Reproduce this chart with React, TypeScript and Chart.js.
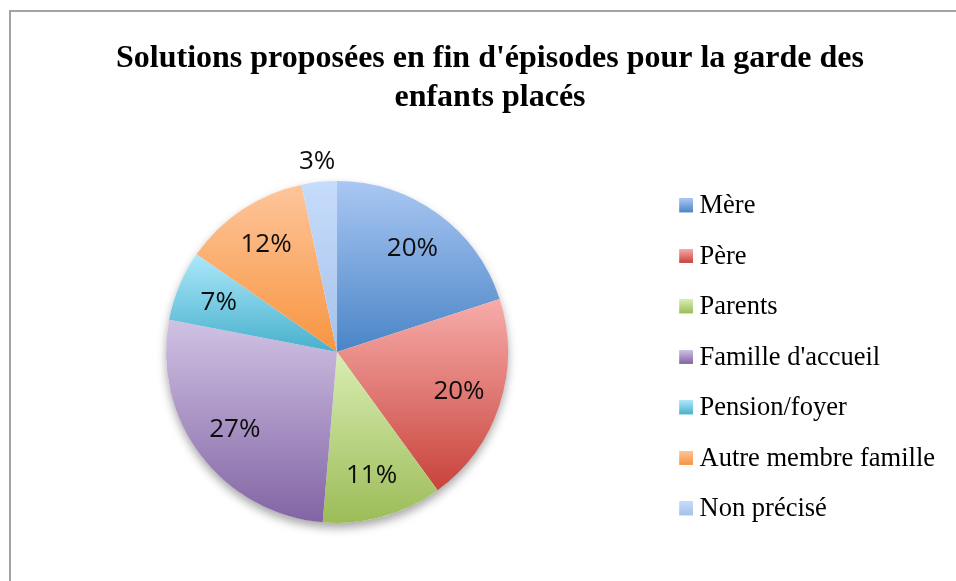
import React, { useEffect, useRef } from "react";
import { Chart, registerables } from "chart.js";

Chart.register(...registerables);

const categories = [
  "Mère",
  "Père",
  "Parents",
  "Famille d'accueil",
  "Pension/foyer",
  "Autre membre famille",
  "Non précisé",
];
const counts = [30, 30, 17, 40, 10, 18, 5];
const gradientTop = ["#aac7f3", "#f7acaa", "#d9edb2", "#d0c2e4", "#ace8fa", "#fec59b", "#c6dcfb"];
const gradientBottom = ["#4a85c6", "#c8433b", "#9cbc58", "#8264a4", "#47b0cc", "#f79540", "#a6c2ea"];
const titleLines = ["Solutions proposées en fin d'épisodes pour la garde des", "enfants placés"];

const SERIF = "'Liberation Serif', 'Times New Roman', serif";

function sliceBounds(arc: any): [number, number] {
  const { x, y, startAngle, endAngle, outerRadius } = arc;
  let ymin = y;
  let ymax = y;
  const consider = (a: number) => {
    const yy = y + Math.sin(a) * outerRadius;
    ymin = Math.min(ymin, yy);
    ymax = Math.max(ymax, yy);
  };
  consider(startAngle);
  consider(endAngle);
  for (let k = -4; k <= 8; k++) {
    const a = (k * Math.PI) / 2;
    if (a > startAngle && a < endAngle) consider(a);
  }
  return [ymin, ymax];
}

const sliceStylePlugin = {
  id: "sliceStyle",
  beforeDatasetsDraw(chart: any) {
    const meta = chart.getDatasetMeta(0);
    const ctx = chart.ctx as CanvasRenderingContext2D;
    const first = meta.data[0];
    if (!first) return;
    // soft shadow under the pie
    ctx.save();
    ctx.beginPath();
    ctx.arc(first.x, first.y, first.outerRadius, 0, Math.PI * 2);
    ctx.fillStyle = "#ffffff";
    ctx.shadowColor = "rgba(0,0,0,0.35)";
    ctx.shadowBlur = 10;
    ctx.shadowOffsetY = 5;
    ctx.fill();
    ctx.restore();
    meta.data.forEach((arc: any, i: number) => {
      const [y0, y1] = sliceBounds(arc);
      const g = ctx.createLinearGradient(0, y0, 0, y1);
      g.addColorStop(0, gradientTop[i]);
      g.addColorStop(1, gradientBottom[i]);
      const opts = arc.options;
      if (Object.isFrozen(opts)) {
        arc.options = Object.assign({}, opts, { backgroundColor: g });
      } else {
        opts.backgroundColor = g;
      }
    });
  },
};

const pctLabelPlugin = {
  id: "pctLabels",
  afterDatasetsDraw(chart: any) {
    const meta = chart.getDatasetMeta(0);
    const ctx = chart.ctx as CanvasRenderingContext2D;
    const data = chart.data.datasets[0].data as number[];
    const total = data.reduce((a, b) => a + b, 0);
    ctx.save();
    ctx.font = "26px 'Open Sans', sans-serif";
    ctx.fillStyle = "#0d0d0d";
    ctx.textAlign = "center";
    ctx.textBaseline = "middle";
    meta.data.forEach((arc: any, i: number) => {
      const pct = (data[i] / total) * 100;
      const mid = (arc.startAngle + arc.endAngle) / 2;
      const r = pct < 5 ? arc.outerRadius + 20 : arc.outerRadius * 0.75;
      const x = arc.x + Math.cos(mid) * r;
      const y = arc.y + Math.sin(mid) * r;
      ctx.fillText(Math.round(pct) + "%", x, y);
    });
    ctx.restore();
  },
};

export default function App() {
  const ref = useRef<HTMLCanvasElement>(null);

  useEffect(() => {
    const images = categories.map((_, i) => {
      const c = document.createElement("canvas");
      c.width = 37;
      c.height = 16;
      const cx = c.getContext("2d")!;
      const g = cx.createLinearGradient(0, 0, 0, 14);
      g.addColorStop(0, gradientTop[i]);
      g.addColorStop(1, gradientBottom[i]);
      cx.fillStyle = g;
      cx.fillRect(23, 0, 14, 14);
      return c;
    });

    const chart = new Chart(ref.current!, {
      type: "pie",
      data: {
        labels: categories,
        datasets: [
          {
            data: counts,
            backgroundColor: gradientBottom,
            borderWidth: 0,
            hoverOffset: 0,
          },
        ],
      },
      options: {
        responsive: false,
        animation: false,
        devicePixelRatio: 1,
        events: [],
        radius: 171,
        layout: { padding: { top: 10, left: 35, right: 11, bottom: 27 } },
        plugins: {
          tooltip: { enabled: false },
          title: {
            display: true,
            text: titleLines,
            color: "#000000",
            font: { family: SERIF, size: 32, weight: "bold", lineHeight: 1.2 },
            padding: { top: 30, bottom: 33 },
          },
          legend: {
            display: true,
            position: "right",
            fullSize: false,
            title: {
              display: true,
              text: "",
              font: { size: 10, lineHeight: 1.2 },
              padding: 0,
            },
            labels: {
              usePointStyle: true,
              pointStyleWidth: 23.25,
              padding: 24,
              color: "#000000",
              font: { family: SERIF, size: 26.5 },
              generateLabels: (ch: any) =>
                ch.data.labels.map((text: string, i: number) => ({
                  text,
                  pointStyle: images[i],
                  fillStyle: "rgba(0,0,0,0)",
                  strokeStyle: "rgba(0,0,0,0)",
                  lineWidth: 0,
                  hidden: false,
                  index: i,
                  fontColor: "#000000",
                })),
            },
          },
        },
      } as any,
      plugins: [sliceStylePlugin, pctLabelPlugin],
    });
    return () => chart.destroy();
  }, []);

  return (
    <div
      style={{
        position: "absolute",
        left: 0,
        top: 0,
        width: 956,
        height: 581,
        overflow: "hidden",
        background: "#ffffff",
      }}
    >
      <div
        style={{
          position: "absolute",
          left: 9,
          top: 10,
          width: 2000,
          height: 2000,
          borderLeft: "2px solid #a3a3a3",
          borderTop: "2px solid #a3a3a3",
        }}
      />
      <canvas
        ref={ref}
        width={956}
        height={581}
        style={{ position: "absolute", left: 0, top: 0, width: 956, height: 581 }}
      />
    </div>
  );
}
